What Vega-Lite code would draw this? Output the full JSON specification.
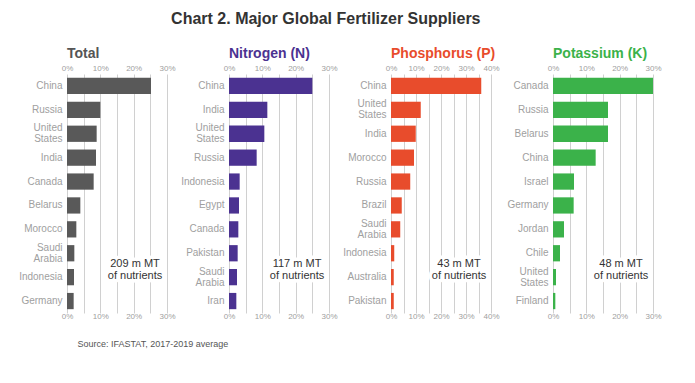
{
  "$schema": "https://vega.github.io/schema/vega-lite/v6.json",
  "padding": {"left": 18, "top": 11, "right": 5, "bottom": 5},
  "background": "white",
  "title": {"text": "Chart 2. Major Global Fertilizer Suppliers", "fontSize": 16, "font": "Liberation Sans", "fontWeight": "bold", "color": "#333333", "anchor": "middle", "frame": "bounds", "dx": -14, "offset": 20},
  "config": {
    "font": "Liberation Sans",
    "view": {"stroke": null},
    "axis": {"domain": false, "ticks": false, "title": null, "labelColor": "#a0a0a0", "labelFont": "Liberation Sans"},
    "title": {"fontSize": 14, "fontWeight": "bold", "font": "Liberation Sans", "offset": 3},
    "scale": {"bandPaddingInner": 0.32, "bandPaddingOuter": 0.16}
  },
  "datasets": {
    "shares": [
      {"group": "Total", "country": "China", "share": 25.2},
      {"group": "Total", "country": "Russia", "share": 10.0},
      {"group": "Total", "country": "United States", "share": 8.9},
      {"group": "Total", "country": "India", "share": 8.7},
      {"group": "Total", "country": "Canada", "share": 8.0},
      {"group": "Total", "country": "Belarus", "share": 4.0},
      {"group": "Total", "country": "Morocco", "share": 2.8},
      {"group": "Total", "country": "Saudi Arabia", "share": 2.2},
      {"group": "Total", "country": "Indonesia", "share": 2.1},
      {"group": "Total", "country": "Germany", "share": 2.0},
      {"group": "N", "country": "China", "share": 25.0},
      {"group": "N", "country": "India", "share": 11.5},
      {"group": "N", "country": "United States", "share": 10.6},
      {"group": "N", "country": "Russia", "share": 8.3},
      {"group": "N", "country": "Indonesia", "share": 3.2},
      {"group": "N", "country": "Egypt", "share": 3.0},
      {"group": "N", "country": "Canada", "share": 2.8},
      {"group": "N", "country": "Pakistan", "share": 2.6},
      {"group": "N", "country": "Saudi Arabia", "share": 2.4},
      {"group": "N", "country": "Iran", "share": 2.2},
      {"group": "P", "country": "China", "share": 36.1},
      {"group": "P", "country": "United States", "share": 11.9},
      {"group": "P", "country": "India", "share": 9.9},
      {"group": "P", "country": "Morocco", "share": 9.2},
      {"group": "P", "country": "Russia", "share": 7.7},
      {"group": "P", "country": "Brazil", "share": 4.3},
      {"group": "P", "country": "Saudi Arabia", "share": 3.7},
      {"group": "P", "country": "Indonesia", "share": 1.3},
      {"group": "P", "country": "Australia", "share": 1.1},
      {"group": "P", "country": "Pakistan", "share": 1.1},
      {"group": "K", "country": "Canada", "share": 30.0},
      {"group": "K", "country": "Russia", "share": 16.5},
      {"group": "K", "country": "Belarus", "share": 16.5},
      {"group": "K", "country": "China", "share": 12.8},
      {"group": "K", "country": "Israel", "share": 6.3},
      {"group": "K", "country": "Germany", "share": 6.2},
      {"group": "K", "country": "Jordan", "share": 3.3},
      {"group": "K", "country": "Chile", "share": 2.1},
      {"group": "K", "country": "United States", "share": 0.9},
      {"group": "K", "country": "Finland", "share": 0.7}
    ],
    "notes": [
      {"group": "Total", "note": "209 m MT\nof nutrients"},
      {"group": "N", "note": "117 m MT\nof nutrients"},
      {"group": "P", "note": "43 m MT\nof nutrients"},
      {"group": "K", "note": "48 m MT\nof nutrients"}
    ]
  },
  "bounds": "flush",
  "spacing": 62,
  "resolve": {"scale": {"x": "independent", "y": "independent"}},
  "hconcat": [
    {
      "title": {"text": "Total", "color": "#555555", "anchor": "start", "frame": "group"},
      "width": 100, "height": 239,
      "resolve": {"axis": {"x": "independent", "y": "independent"}},
      "layer": [
        {
          "data": {"name": "shares"},
          "transform": [{"filter": "datum.group == 'Total'"}],
          "mark": {"type": "bar", "color": "#595959"},
          "encoding": {
            "y": {"field": "country", "type": "nominal", "scale": {"domain": ["China", "Russia", "United States", "India", "Canada", "Belarus", "Morocco", "Saudi Arabia", "Indonesia", "Germany"]},
                  "axis": {"labelFontSize": 10, "labelPadding": 5, "labelLineHeight": 11, "labelOffset": {"condition": {"test": "datum.value == 'United States' || datum.value == 'Saudi Arabia'", "value": -5.5}, "value": 0}, "labelExpr": "datum.value == 'United States' ? ['United','States'] : datum.value == 'Saudi Arabia' ? ['Saudi','Arabia'] : datum.value"}},
            "x": {"field": "share", "type": "quantitative", "scale": {"domain": [0, 30], "nice": false},
                  "axis": {"orient": "top", "values": [0, 5, 10, 15, 20, 25, 30], "labelExpr": "datum.value % 10 == 0 ? datum.value + '%' : ''", "labelFontSize": 8, "labelPadding": 2, "grid": true, "gridColor": "#d0d0d0", "labelFlush": false}}
          }
        },
        {
          "data": {"name": "notes"},
          "transform": [{"filter": "datum.group == 'Total'"}],
          "mark": {"type": "text", "lineBreak": "\n", "fontSize": 11, "lineHeight": 12, "dy": -13, "stroke": "white", "strokeWidth": 7, "fill": "white", "strokeJoin": "round"},
          "encoding": {
            "y": {"datum": "Indonesia", "type": "nominal", "axis": null},
            "x": {"datum": 20.4, "type": "quantitative",
                  "axis": {"orient": "bottom", "values": [0, 10, 20, 30], "labelExpr": "datum.value + '%'", "labelFontSize": 8, "labelPadding": -1, "grid": false, "labelFlush": false,
                           "title": "Source: IFASTAT, 2017-2019 average", "titleFontSize": 9, "titleFontWeight": "normal", "titleColor": "#555555", "titleAnchor": "start", "titleAlign": "left", "titleBaseline": "middle", "titleX": 10, "titleY": 30}},
            "text": {"field": "note"}
          }
        },
        {
          "data": {"name": "notes"},
          "transform": [{"filter": "datum.group == 'Total'"}],
          "mark": {"type": "text", "lineBreak": "\n", "fontSize": 11, "lineHeight": 12, "dy": -13, "color": "#333333"},
          "encoding": {
            "y": {"datum": "Indonesia", "type": "nominal", "axis": null},
            "x": {"datum": 20.4, "type": "quantitative", "axis": null},
            "text": {"field": "note"}
          }
        }
      ]
    },
    {
      "title": {"text": "Nitrogen (N)", "color": "#4b3291", "anchor": "start", "frame": "group"},
      "width": 100, "height": 239,
      "resolve": {"axis": {"x": "independent", "y": "independent"}},
      "layer": [
        {
          "data": {"name": "shares"},
          "transform": [{"filter": "datum.group == 'N'"}],
          "mark": {"type": "bar", "color": "#4b3291"},
          "encoding": {
            "y": {"field": "country", "type": "nominal", "scale": {"domain": ["China", "India", "United States", "Russia", "Indonesia", "Egypt", "Canada", "Pakistan", "Saudi Arabia", "Iran"]},
                  "axis": {"labelFontSize": 10, "labelPadding": 5, "labelLineHeight": 11, "labelOffset": {"condition": {"test": "datum.value == 'United States' || datum.value == 'Saudi Arabia'", "value": -5.5}, "value": 0}, "labelExpr": "datum.value == 'United States' ? ['United','States'] : datum.value == 'Saudi Arabia' ? ['Saudi','Arabia'] : datum.value"}},
            "x": {"field": "share", "type": "quantitative", "scale": {"domain": [0, 30], "nice": false},
                  "axis": {"orient": "top", "values": [0, 5, 10, 15, 20, 25, 30], "labelExpr": "datum.value % 10 == 0 ? datum.value + '%' : ''", "labelFontSize": 8, "labelPadding": 2, "grid": true, "gridColor": "#d0d0d0", "labelFlush": false}}
          }
        },
        {
          "data": {"name": "notes"},
          "transform": [{"filter": "datum.group == 'N'"}],
          "mark": {"type": "text", "lineBreak": "\n", "fontSize": 11, "lineHeight": 12, "dy": -13, "stroke": "white", "strokeWidth": 7, "fill": "white", "strokeJoin": "round"},
          "encoding": {
            "y": {"datum": "Saudi Arabia", "type": "nominal", "axis": null},
            "x": {"datum": 20.4, "type": "quantitative",
                  "axis": {"orient": "bottom", "values": [0, 10, 20, 30], "labelExpr": "datum.value + '%'", "labelFontSize": 8, "labelPadding": -1, "grid": false, "labelFlush": false}},
            "text": {"field": "note"}
          }
        },
        {
          "data": {"name": "notes"},
          "transform": [{"filter": "datum.group == 'N'"}],
          "mark": {"type": "text", "lineBreak": "\n", "fontSize": 11, "lineHeight": 12, "dy": -13, "color": "#333333"},
          "encoding": {
            "y": {"datum": "Saudi Arabia", "type": "nominal", "axis": null},
            "x": {"datum": 20.4, "type": "quantitative", "axis": null},
            "text": {"field": "note"}
          }
        }
      ]
    },
    {
      "title": {"text": "Phosphorus (P)", "color": "#e84c2c", "anchor": "start", "frame": "group"},
      "width": 100, "height": 239,
      "resolve": {"axis": {"x": "independent", "y": "independent"}},
      "layer": [
        {
          "data": {"name": "shares"},
          "transform": [{"filter": "datum.group == 'P'"}],
          "mark": {"type": "bar", "color": "#e84c2c"},
          "encoding": {
            "y": {"field": "country", "type": "nominal", "scale": {"domain": ["China", "United States", "India", "Morocco", "Russia", "Brazil", "Saudi Arabia", "Indonesia", "Australia", "Pakistan"]},
                  "axis": {"labelFontSize": 10, "labelPadding": 5, "labelLineHeight": 11, "labelOffset": {"condition": {"test": "datum.value == 'United States' || datum.value == 'Saudi Arabia'", "value": -5.5}, "value": 0}, "labelExpr": "datum.value == 'United States' ? ['United','States'] : datum.value == 'Saudi Arabia' ? ['Saudi','Arabia'] : datum.value"}},
            "x": {"field": "share", "type": "quantitative", "scale": {"domain": [0, 40], "nice": false},
                  "axis": {"orient": "top", "values": [0, 5, 10, 15, 20, 25, 30, 35, 40], "labelExpr": "datum.value % 10 == 0 ? datum.value + '%' : ''", "labelFontSize": 8, "labelPadding": 2, "grid": true, "gridColor": "#d0d0d0", "labelFlush": false}}
          }
        },
        {
          "data": {"name": "notes"},
          "transform": [{"filter": "datum.group == 'P'"}],
          "mark": {"type": "text", "lineBreak": "\n", "fontSize": 11, "lineHeight": 12, "dy": -13, "stroke": "white", "strokeWidth": 7, "fill": "white", "strokeJoin": "round"},
          "encoding": {
            "y": {"datum": "Australia", "type": "nominal", "axis": null},
            "x": {"datum": 27.2, "type": "quantitative",
                  "axis": {"orient": "bottom", "values": [0, 10, 20, 30, 40], "labelExpr": "datum.value + '%'", "labelFontSize": 8, "labelPadding": -1, "grid": false, "labelFlush": false}},
            "text": {"field": "note"}
          }
        },
        {
          "data": {"name": "notes"},
          "transform": [{"filter": "datum.group == 'P'"}],
          "mark": {"type": "text", "lineBreak": "\n", "fontSize": 11, "lineHeight": 12, "dy": -13, "color": "#333333"},
          "encoding": {
            "y": {"datum": "Australia", "type": "nominal", "axis": null},
            "x": {"datum": 27.2, "type": "quantitative", "axis": null},
            "text": {"field": "note"}
          }
        }
      ]
    },
    {
      "title": {"text": "Potassium (K)", "color": "#3bb24a", "anchor": "start", "frame": "group"},
      "width": 100, "height": 239,
      "resolve": {"axis": {"x": "independent", "y": "independent"}},
      "layer": [
        {
          "data": {"name": "shares"},
          "transform": [{"filter": "datum.group == 'K'"}],
          "mark": {"type": "bar", "color": "#3bb24a"},
          "encoding": {
            "y": {"field": "country", "type": "nominal", "scale": {"domain": ["Canada", "Russia", "Belarus", "China", "Israel", "Germany", "Jordan", "Chile", "United States", "Finland"]},
                  "axis": {"labelFontSize": 10, "labelPadding": 5, "labelLineHeight": 11, "labelOffset": {"condition": {"test": "datum.value == 'United States' || datum.value == 'Saudi Arabia'", "value": -5.5}, "value": 0}, "labelExpr": "datum.value == 'United States' ? ['United','States'] : datum.value == 'Saudi Arabia' ? ['Saudi','Arabia'] : datum.value"}},
            "x": {"field": "share", "type": "quantitative", "scale": {"domain": [0, 30], "nice": false},
                  "axis": {"orient": "top", "values": [0, 5, 10, 15, 20, 25, 30], "labelExpr": "datum.value % 10 == 0 ? datum.value + '%' : ''", "labelFontSize": 8, "labelPadding": 2, "grid": true, "gridColor": "#d0d0d0", "labelFlush": false}}
          }
        },
        {
          "data": {"name": "notes"},
          "transform": [{"filter": "datum.group == 'K'"}],
          "mark": {"type": "text", "lineBreak": "\n", "fontSize": 11, "lineHeight": 12, "dy": -13, "stroke": "white", "strokeWidth": 7, "fill": "white", "strokeJoin": "round"},
          "encoding": {
            "y": {"datum": "United States", "type": "nominal", "axis": null},
            "x": {"datum": 20.4, "type": "quantitative",
                  "axis": {"orient": "bottom", "values": [0, 10, 20, 30], "labelExpr": "datum.value + '%'", "labelFontSize": 8, "labelPadding": -1, "grid": false, "labelFlush": false}},
            "text": {"field": "note"}
          }
        },
        {
          "data": {"name": "notes"},
          "transform": [{"filter": "datum.group == 'K'"}],
          "mark": {"type": "text", "lineBreak": "\n", "fontSize": 11, "lineHeight": 12, "dy": -13, "color": "#333333"},
          "encoding": {
            "y": {"datum": "United States", "type": "nominal", "axis": null},
            "x": {"datum": 20.4, "type": "quantitative", "axis": null},
            "text": {"field": "note"}
          }
        }
      ]
    }
  ]
}
